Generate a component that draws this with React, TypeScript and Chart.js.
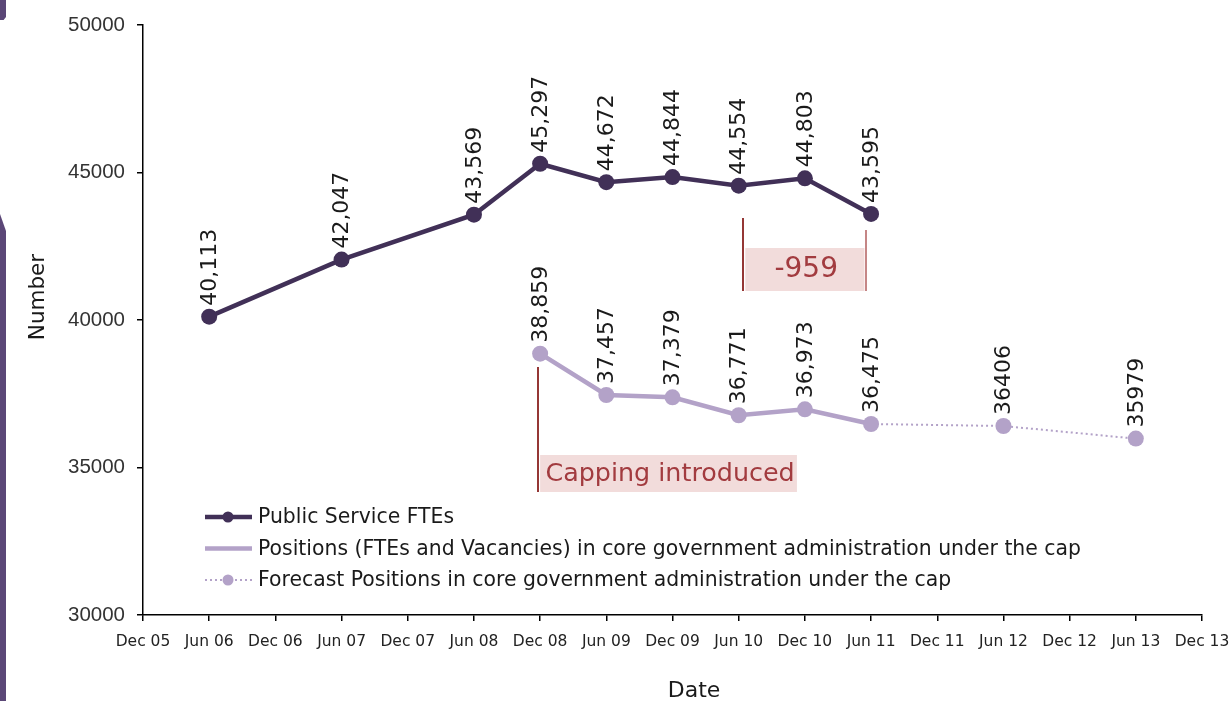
import React, { useEffect, useRef } from "react";
import { Chart, registerables } from "chart.js";

Chart.register(...registerables);

const dateLabels = [
  "Dec 05", "Jun 06", "Dec 06", "Jun 07", "Dec 07", "Jun 08", "Dec 08", "Jun 09", "Dec 09",
  "Jun 10", "Dec 10", "Jun 11", "Dec 11", "Jun 12", "Dec 12", "Jun 13", "Dec 13",
];

const fteDates = ["Jun 06", "Jun 07", "Jun 08", "Dec 08", "Jun 09", "Dec 09", "Jun 10", "Dec 10", "Jun 11"];
const fteValues = [40113, 42047, 43569, 45297, 44672, 44844, 44554, 44803, 43595];

const capDates = ["Dec 08", "Jun 09", "Dec 09", "Jun 10", "Dec 10", "Jun 11"];
const capValues = [38859, 37457, 37379, 36771, 36973, 36475];

const forecastDates = ["Jun 11", "Jun 12", "Jun 13"];
const forecastValues = [36475, 36406, 35979];

const seriesNames = [
  "Public Service FTEs",
  "Positions (FTEs and Vacancies) in core government administration under the cap",
  "Forecast Positions in core government administration under the cap",
];

const yTicks = [30000, 35000, 40000, 45000, 50000];
const changeNote = "-959";
const capNote = "Capping introduced";

const DARK = "#413057";
const LIGHT = "#b3a2c8";
const RED = "#953735";
const PINK = "#f2dcdb";
const GOTHIC = "'DejaVu Sans', 'Noto Sans', sans-serif";
const ARIAL = "'Liberation Sans', Arial, sans-serif";

const labelPlugin = {
  id: "pointLabels",
  afterDatasetsDraw(chart: any) {
    const ctx = chart.ctx;
    ctx.save();
    ctx.font = `22px ${GOTHIC}`;
    ctx.fillStyle = "#1a1a1a";
    ctx.textAlign = "left";
    ctx.textBaseline = "middle";
    chart.data.datasets.forEach((ds: any, di: number) => {
      const meta = chart.getDatasetMeta(di);
      meta.data.forEach((pt: any, i: number) => {
        if (ds.skipLabels && ds.skipLabels.includes(i)) return;
        const v = ds.data[i].y;
        const txt = ds.plainLabels ? String(v) : v.toLocaleString("en-US");
        ctx.save();
        ctx.translate(pt.x + 1, pt.y - 11);
        ctx.rotate(-Math.PI / 2);
        ctx.fillText(txt, 0, 0);
        ctx.restore();
      });
    });
    ctx.restore();
  },
};

const annotationPlugin = {
  id: "notes",
  afterDatasetsDraw(chart: any) {
    const ctx = chart.ctx;
    const xs = chart.scales.x;
    const ys = chart.scales.y;
    const X = (v: number) => xs.getPixelForValue(v);
    const Y = (v: number) => ys.getPixelForValue(v);
    ctx.save();
    // -959 box
    ctx.fillStyle = PINK;
    ctx.fillRect(X(9.1), Y(42441), X(10.9) - X(9.1), Y(40983) - Y(42441));
    ctx.strokeStyle = RED;
    ctx.lineWidth = 2;
    ctx.beginPath();
    ctx.moveTo(Math.round(X(9.07)), Y(43458));
    ctx.lineTo(Math.round(X(9.07)), Y(40983));
    ctx.stroke();
    ctx.strokeStyle = "#c58686";
    ctx.beginPath();
    ctx.moveTo(Math.round(X(10.93)), Y(43050));
    ctx.lineTo(Math.round(X(10.93)), Y(40983));
    ctx.stroke();
    ctx.fillStyle = "#a23b3f";
    ctx.font = `28px ${GOTHIC}`;
    ctx.textAlign = "center";
    ctx.textBaseline = "middle";
    ctx.fillText(changeNote, X(10.02), Y(41720));
    // capping box
    ctx.fillStyle = PINK;
    ctx.fillRect(X(6.0), Y(35424), X(9.88) - X(6.0), Y(34169) - Y(35424));
    ctx.strokeStyle = RED;
    ctx.beginPath();
    ctx.moveTo(Math.round(X(5.97)), Y(38407));
    ctx.lineTo(Math.round(X(5.97)), Y(34169));
    ctx.stroke();
    ctx.fillStyle = "#a23b3f";
    ctx.font = `25.4px ${GOTHIC}`;
    ctx.textAlign = "left";
    ctx.fillText(capNote, X(6.08), Y(34780));
    ctx.restore();
  },
};

const legendPlugin = {
  id: "customLegend",
  afterDraw(chart: any) {
    const ctx = chart.ctx;
    const area = chart.chartArea;
    const x0 = area.left + 62;
    const y0 = area.bottom - 98;
    const gap = 31.5;
    ctx.save();
    chart.data.datasets.forEach((ds: any, i: number) => {
      const y = y0 + i * gap;
      ctx.strokeStyle = ds.borderColor;
      ctx.lineWidth = i === 2 ? 2 : 4.5;
      ctx.setLineDash(i === 2 ? [2, 3] : []);
      ctx.beginPath();
      ctx.moveTo(x0, y);
      ctx.lineTo(x0 + 47, y);
      ctx.stroke();
      ctx.setLineDash([]);
      if (i !== 1) {
        ctx.fillStyle = ds.pointBackgroundColor;
        ctx.beginPath();
        ctx.arc(x0 + 23, y, 5.5, 0, Math.PI * 2);
        ctx.fill();
      }
      ctx.fillStyle = "#1a1a1a";
      ctx.font = `20.4px ${GOTHIC}`;
      ctx.textAlign = "left";
      ctx.textBaseline = "middle";
      ctx.fillText(ds.label, x0 + 53, y + 1);
    });
    ctx.restore();
  },
};

const titlePlugin = {
  id: "axisTitles",
  afterDraw(chart: any) {
    const ctx = chart.ctx;
    const area = chart.chartArea;
    ctx.save();
    ctx.fillStyle = "#1a1a1a";
    ctx.textAlign = "center";
    ctx.textBaseline = "middle";
    ctx.font = `21.5px ${GOTHIC}`;
    ctx.translate(area.left - 105, area.top + 272);
    ctx.rotate(-Math.PI / 2);
    ctx.fillText("Number", 0, 0);
    ctx.restore();
    ctx.save();
    ctx.fillStyle = "#1a1a1a";
    ctx.textAlign = "center";
    ctx.textBaseline = "middle";
    ctx.font = `22px ${GOTHIC}`;
    ctx.fillText("Date", area.left + 551, area.bottom + 76);
    ctx.restore();
  },
};

export default function App() {
  const ref = useRef<HTMLCanvasElement | null>(null);
  useEffect(() => {
    document.body.style.margin = "0";
    const canvas = ref.current;
    if (!canvas) return;
    const toPts = (d: string[], v: number[]) => d.map((x, i) => ({ x, y: v[i] }));
    const chart = new Chart(canvas, {
      type: "line",
      data: {
        labels: dateLabels,
        datasets: [
          {
            label: seriesNames[0],
            data: toPts(fteDates, fteValues),
            borderColor: DARK,
            backgroundColor: DARK,
            pointBackgroundColor: DARK,
            pointBorderColor: DARK,
            borderWidth: 4.5,
            pointRadius: 8,
            pointBorderWidth: 0,
            tension: 0,
          } as any,
          {
            label: seriesNames[1],
            data: toPts(capDates, capValues),
            borderColor: LIGHT,
            backgroundColor: LIGHT,
            pointBackgroundColor: LIGHT,
            pointBorderColor: LIGHT,
            borderWidth: 4.5,
            pointRadius: 8,
            pointBorderWidth: 0,
            tension: 0,
          } as any,
          {
            label: seriesNames[2],
            data: toPts(forecastDates, forecastValues),
            borderColor: LIGHT,
            backgroundColor: LIGHT,
            pointBackgroundColor: LIGHT,
            pointBorderColor: LIGHT,
            borderWidth: 2,
            borderDash: [2, 3],
            pointRadius: [0, 8, 8],
            pointBorderWidth: 0,
            tension: 0,
            skipLabels: [0],
            plainLabels: true,
          } as any,
        ],
      },
      options: {
        animation: false,
        responsive: false,
        layout: { padding: { top: 25, right: 28, left: 0, bottom: 0 } },
        plugins: { legend: { display: false }, tooltip: { enabled: false } },
        scales: {
          x: {
            type: "category",
            offset: false,
            grid: { display: true, drawOnChartArea: false, drawTicks: true, tickLength: 6, color: "#000", lineWidth: 1.5 },
            border: { display: true, color: "#000", width: 1.5 },
            ticks: { font: { family: GOTHIC, size: 15.5 }, color: "#222", padding: 12, maxRotation: 0, autoSkip: false },
            afterFit: (s: any) => { s.height = 86; s.paddingLeft = 0; s.paddingRight = 0; },
          },
          y: {
            min: yTicks[0],
            max: yTicks[yTicks.length - 1],
            afterBuildTicks: (s: any) => { s.ticks = yTicks.map((v) => ({ value: v })); },
            grid: { display: true, drawOnChartArea: false, drawTicks: true, tickLength: 6, color: "#000", lineWidth: 1.5 },
            border: { display: true, color: "#000", width: 1.5 },
            ticks: { font: { family: ARIAL, size: 20.5 }, color: "#333", padding: 12, callback: (v: any) => String(v) },
            afterFit: (s: any) => { s.width = 143; s.paddingTop = 0; s.paddingBottom = 0; },
          },
        },
      },
      plugins: [annotationPlugin, labelPlugin, legendPlugin, titlePlugin],
    });
    return () => chart.destroy();
  }, []);

  return (
    <div style={{ position: "relative", width: 1230, height: 701, background: "#fff", overflow: "hidden" }}>
      <div style={{ position: "absolute", left: 0, top: 0, width: 6, height: 20, background: "#5b4777", clipPath: "polygon(0 0,100% 0,100% 85%,60% 100%,0 100%)" }} />
      <div style={{ position: "absolute", left: 0, top: 214, width: 6, height: 487, background: "#5b4777", clipPath: "polygon(0 0,100% 3.5%,100% 100%,0 100%)" }} />
      <canvas ref={ref} width={1230} height={701} style={{ display: "block" }} />
    </div>
  );
}
